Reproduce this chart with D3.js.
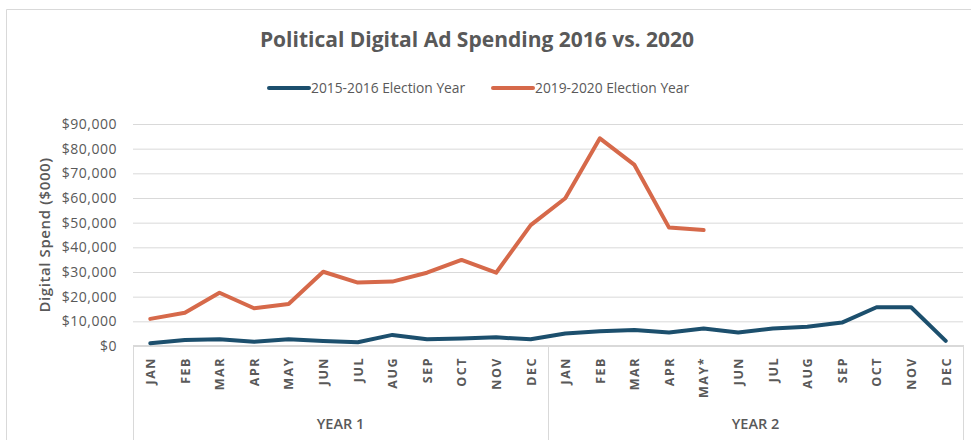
<!DOCTYPE html>
<html>
<head>
<meta charset="utf-8">
<script src="https://cdn.jsdelivr.net/npm/d3@7/dist/d3.min.js"></script>
<style>
  html, body { margin: 0; padding: 0; background: #fff; }
  svg { display: block; }
  text { font-family: "Open Sans", "Noto Sans", sans-serif; fill: #595959; }
</style>
</head>
<body>
<svg id="chart" width="971" height="440"></svg>
<script>
// Month categories along the two-year axis
const months = ["JAN","FEB","MAR","APR","MAY","JUN","JUL","AUG","SEP","OCT","NOV","DEC",
                "JAN","FEB","MAR","APR","MAY*","JUN","JUL","AUG","SEP","OCT","NOV","DEC"];
const yearGroups = ["YEAR 1", "YEAR 2"];
const seriesNames = ["2015-2016 Election Year", "2019-2020 Election Year"];

// Digital spend in $000
const spend2016 = [1100, 2400, 2700, 1700, 2700, 2000, 1500, 4500, 2700, 3000, 3500, 2700,
                   5100, 6000, 6500, 5500, 7100, 5500, 7100, 7800, 9500, 15700, 15700, 2100];
const spend2020 = [11000, 13500, 21600, 15300, 17000, 30100, 25700, 26100, 29700, 34900, 29700, 49000,
                   59900, 84200, 73400, 48000, 47000];

const yTicks = [0, 10000, 20000, 30000, 40000, 50000, 60000, 70000, 80000, 90000];

const colors = ["#1c4f6d", "#d6694a"];
const gridColor = "#d9d9d9";

const svg = d3.select("#chart");
const W = 971, H = 440;
const plot = { left: 133, right: 963, top: 124, bottom: 346 };

// outer chart frame
svg.append("path")
  .attr("d", `M6.5,${H} V9.5 H${W}`)
  .attr("fill", "none").attr("stroke", gridColor).attr("stroke-width", 1);

const x = d3.scaleBand()
  .domain(d3.range(months.length))
  .range([plot.left, plot.right]);
const xc = i => x(i) + x.bandwidth() / 2;

const y = d3.scaleLinear()
  .domain([0, 90000])
  .range([plot.bottom, plot.top]);

// title
svg.append("text")
  .attr("x", 477).attr("y", 47)
  .attr("text-anchor", "middle")
  .style("font-size", "21px").style("font-weight", 700)
  .text("Political Digital Ad Spending 2016 vs. 2020");

// legend
const legendX = [269, 493];
seriesNames.forEach((name, i) => {
  const g = svg.append("g").attr("transform", `translate(${legendX[i]},88)`);
  g.append("line").attr("x1", 0).attr("x2", 40).attr("y1", 0).attr("y2", 0)
    .attr("stroke", colors[i]).attr("stroke-width", 4).attr("stroke-linecap", "round");
  g.append("text").attr("x", 42).attr("y", 5)
    .style("font-size", "13.8px")
    .text(name);
});

// y axis with horizontal gridlines
const yAxis = d3.axisLeft(y)
  .tickValues(yTicks)
  .tickFormat(d3.format("$,"))
  .tickSize(-(plot.right - plot.left))
  .tickPadding(16);

const gy = svg.append("g")
  .attr("transform", `translate(${plot.left},0)`)
  .call(yAxis);
gy.select(".domain").remove();
gy.selectAll(".tick line").attr("stroke", gridColor).attr("stroke-width", 1);
gy.selectAll(".tick text")
  .attr("fill", "#595959")
  .style("font-size", "14px")
  .style("font-weight", 500)
  .style("letter-spacing", "0.5px")
  .style("font-family", "'Open Sans', sans-serif");

// y axis title
svg.append("text")
  .attr("transform", `translate(50,${(plot.top + plot.bottom) / 2}) rotate(-90)`)
  .attr("text-anchor", "middle")
  .style("font-size", "15px").style("font-weight", 600).style("letter-spacing", "0.6px")
  .text("Digital Spend ($000)");

// x axis baseline and group separators
svg.append("line")
  .attr("x1", plot.left).attr("x2", plot.right)
  .attr("y1", plot.bottom - 0.5).attr("y2", plot.bottom - 0.5)
  .attr("stroke", gridColor);

const groupSize = months.length / yearGroups.length;
const separators = d3.range(yearGroups.length + 1).map(k =>
  k < yearGroups.length ? x(k * groupSize) : x(months.length - 1) + x.bandwidth());
svg.selectAll("line.sep")
  .data(separators)
  .join("line")
  .attr("class", "sep")
  .attr("x1", d => Math.round(d) + 0.5).attr("x2", d => Math.round(d) + 0.5)
  .attr("y1", plot.bottom - 1).attr("y2", H)
  .attr("stroke", gridColor);

// month labels
svg.selectAll("text.month")
  .data(months)
  .join("text")
  .attr("class", "month")
  .attr("transform", (d, i) => `translate(${xc(i) + 4.8},357) rotate(-90)`)
  .attr("text-anchor", "end")
  .style("font-size", "12.5px").style("font-weight", 700).style("letter-spacing", "1.5px")
  .text(d => d);

// year group labels
svg.selectAll("text.year")
  .data(yearGroups)
  .join("text")
  .attr("class", "year")
  .attr("x", (d, k) => (separators[k] + separators[k + 1]) / 2)
  .attr("y", 429)
  .attr("text-anchor", "middle")
  .style("font-size", "14.5px").style("font-weight", 600)
  .text(d => d);

// series lines
const line = d3.line()
  .defined(d => d != null)
  .x((d, i) => xc(i))
  .y(d => y(d));

[spend2016, spend2020].forEach((vals, i) => {
  svg.append("path")
    .datum(vals)
    .attr("d", line)
    .attr("fill", "none")
    .attr("stroke", colors[i])
    .attr("stroke-width", 4)
    .attr("stroke-linejoin", "round")
    .attr("stroke-linecap", "round");
});
</script>
</body>
</html>
